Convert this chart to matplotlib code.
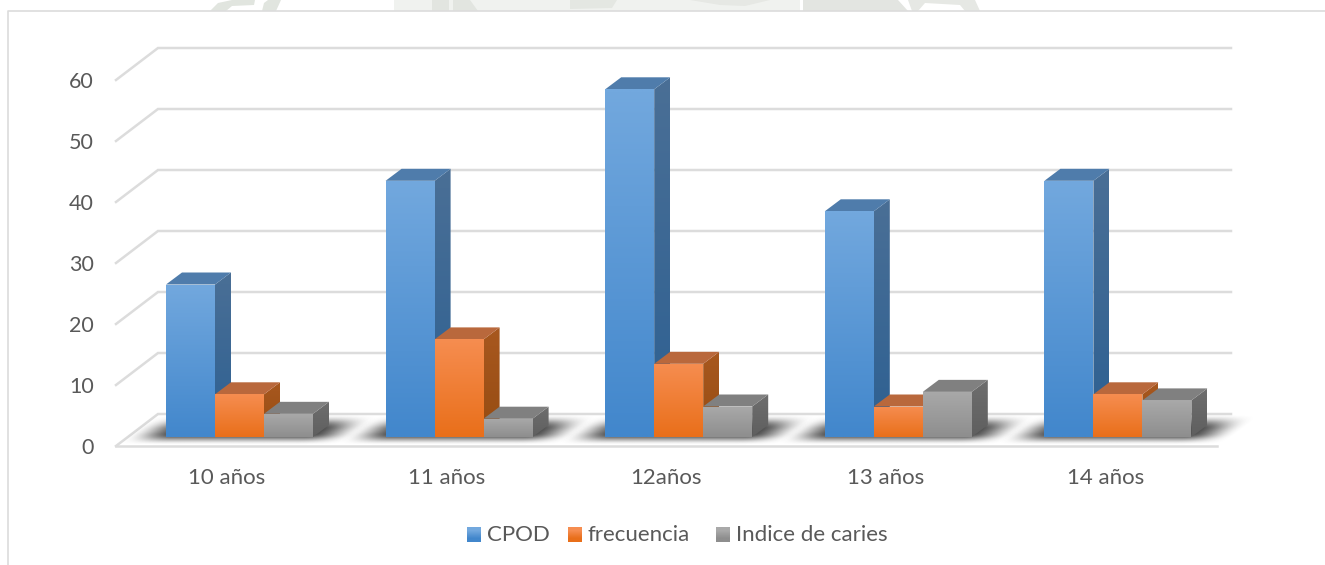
import numpy as np
import matplotlib
matplotlib.use("Agg")
import matplotlib.pyplot as plt
from matplotlib.colors import to_rgb
from matplotlib.patches import Polygon
from matplotlib.transforms import Affine2D

categories = ["10 años", "11 años", "12años", "13 años", "14 años"]
cpod = [25, 42, 57, 37, 42]
frecuencia = [7, 16, 12, 5, 7]
indice = [3.8, 3, 5, 7.4, 6]
series_names = ["CPOD", "frecuencia", "Indice de caries"]
y_ticks = [0, 10, 20, 30, 40, 50, 60]

# colours per series: front top/bottom, side top/bottom, top face
colors = [
    ("#72a8de", "#4287cc", "#4a6f96", "#2d6092", "#4f7cab"),
    ("#f68d50", "#e96f1a", "#a8581f", "#964c12", "#b9683c"),
    ("#a9a9a9", "#8e8e8e", "#6e6e6e", "#5f5f5f", "#808080"),
]

plt.rcParams["font.family"] = ["Lato", "DejaVu Sans"]
text_color = "#595959"
grid_color = "#dcdcdc"

fig = plt.figure(figsize=(13.25, 5.65), dpi=100)
ax = fig.add_axes([0, 0, 1, 1])

# scale of the plot: one category = 219.6 px, one unit = 6.1 px
px_x = 219.6
px_y = 6.1
xlim = (-239.5 / px_x, (1325 - 239.5) / px_x)
ylim = (-(565 - 437) / px_y, 437 / px_y)
bar_w = 49 / px_x
dep_x = 16 / px_x
dep_y = 12 / px_y

# pixel coordinates for frame and legend
px = Affine2D().scale(1 / 1325, -1 / 565).translate(0, 1) + fig.transFigure


def gradient_poly(points, top, bottom, zorder):
    pts = np.array(points)
    rgb0, rgb1 = np.array(to_rgb(top)), np.array(to_rgb(bottom))
    t = np.linspace(0, 1, 64)[:, None, None]
    img = (rgb0 * (1 - t) + rgb1 * t)
    im = ax.imshow(img, extent=(pts[:, 0].min(), pts[:, 0].max(), pts[:, 1].min(), pts[:, 1].max()),
                   aspect="auto", origin="upper", zorder=zorder, interpolation="bilinear")
    clip = Polygon(pts, closed=True, transform=ax.transData)
    im.set_clip_path(clip)


def draw_bar(x, v, c, zorder):
    d = colors[c]
    gradient_poly([(x + bar_w, 0), (x + bar_w + dep_x, dep_y), (x + bar_w + dep_x, v + dep_y), (x + bar_w, v)],
                  d[2], d[3], zorder)
    ax.add_patch(Polygon([(x, v), (x + dep_x, v + dep_y), (x + bar_w + dep_x, v + dep_y), (x + bar_w, v)],
                         closed=True, facecolor=d[4], edgecolor="none", zorder=zorder))
    gradient_poly([(x, 0), (x + bar_w, 0), (x + bar_w, v), (x, v)], d[0], d[1], zorder + 0.1)


def smooth(t):
    t = np.clip(t, 0, 1)
    return t * t * (3 - 2 * t)


def draw_shadow(center):
    # soft dark patch lying on the floor under a group of bars
    xs = np.linspace(center - 0.66, center + 0.7, 400)
    ys = np.linspace(-1.4, 4.0, 60)
    X, Y = np.meshgrid(xs, ys)
    U = X - center - Y * (dep_x / dep_y)
    a = smooth((U + 0.53) / 0.22) * smooth((0.52 - U) / 0.22)
    b = smooth((Y + 1.25) / 1.9) * smooth((3.8 - Y) / 2.4)
    img = np.zeros(X.shape + (4,))
    img[..., :3] = 0.2
    img[..., 3] = a * b * 0.9
    ax.imshow(img, extent=(xs[0], xs[-1], ys[0], ys[-1]), origin="lower", aspect="auto",
              zorder=2, interpolation="bilinear")


# watermark remains above the chart frame
marks = [
    ([(394, 0), (800, 0), (800, 11), (394, 11)], "#f0f2ef"),
    ([(210, 11), (218, 3), (232, 0), (255, 0), (254, 5), (232, 6), (226, 11)], "#e1e5df"),
    ([(262, 11), (264, 3), (268, 0), (281, 0), (276, 11)], "#e1e5df"),
    ([(432, 0), (449, 0), (449, 11), (432, 11)], "#e2e5e0"),
    ([(453, 0), (470, 0), (478, 11), (453, 11)], "#e2e5e0"),
    ([(570, 0), (617, 0), (612, 8), (570, 9)], "#e4e7e2"),
    ([(690, 0), (770, 0), (745, 6), (720, 5)], "#e6e8e4"),
    ([(803, 0), (898, 0), (908, 11), (803, 11)], "#e3e5e1"),
    ([(908, 0), (975, 0), (980, 11), (965, 11), (960, 5), (925, 3), (918, 11), (912, 11)], "#e6e8e4"),
]
for pts, col in marks:
    ax.add_patch(Polygon(pts, closed=True, transform=px, facecolor=col, edgecolor="none", zorder=0))

# chart frame
ax.plot([8, 8, 1325], [565, 11, 11], transform=px, color=grid_color, lw=1.2, zorder=1)

# back wall grid lines with the diagonal part on the left
back_y = 23 / px_y
front_y = -9 / px_y
for t in y_ticks:
    x_left = xlim[0] + 116 / px_x
    x_back = xlim[0] + 158 / px_x
    x_right = xlim[0] + 1231 / px_x
    ax.plot([x_left, x_back, x_right], [t + front_y, t + back_y, t + back_y],
            color=grid_color, lw=1.8, zorder=1, solid_joinstyle="miter")
    ax.text(xlim[0] + 94 / px_x, t + front_y - 0.25, str(t), ha="right", va="center",
            fontsize=15.5, color=text_color, zorder=5)

# floor front edge
ax.plot([xlim[0] + 116 / px_x, xlim[0] + 1217 / px_x], [front_y, front_y], color=grid_color, lw=1.8, zorder=1)

# shadows, then bars
for i in range(len(categories)):
    draw_shadow(i)

for i, name in enumerate(categories):
    values = [cpod[i], frecuencia[i], indice[i]]
    for j, v in enumerate(values):
        draw_bar(i + (j - 1.5) * bar_w, v, j, 3 + i + j * 0.2)
    ax.text(i - 12.5 / px_x, -41 / px_y, name, ha="center", va="center", fontsize=16, color=text_color)

# legend
legend_x = [467, 568, 716]
for j, name in enumerate(series_names):
    x0 = legend_x[j]
    img = np.array([to_rgb(colors[j][0]), to_rgb(colors[j][1])])[:, None, :]
    im = ax.imshow(img, extent=(x0, x0 + 14, 542, 527), transform=px, aspect="auto",
                   origin="upper", interpolation="bilinear", zorder=5)
    ax.text(x0 + 20, 535, name, transform=px, ha="left", va="center", fontsize=16, color=text_color)

ax.set_xlim(xlim)
ax.set_ylim(ylim)
ax.axis("off")

fig.savefig("out.png", dpi=100)
